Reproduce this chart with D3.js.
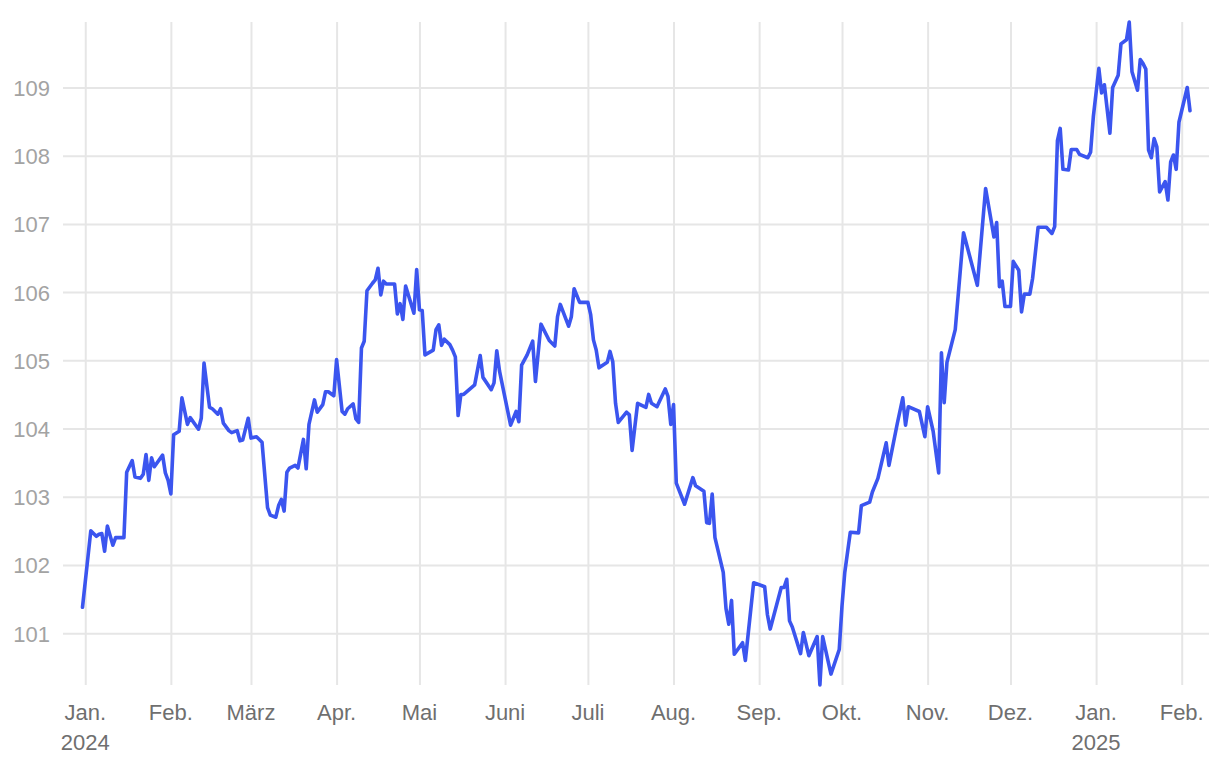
<!DOCTYPE html>
<html>
<head>
<meta charset="utf-8">
<script src="https://cdn.jsdelivr.net/npm/d3@7"></script>
<style>
  html, body { margin: 0; padding: 0; background: #ffffff; }
  svg { display: block; font-family: "Liberation Sans", Arial, Helvetica, sans-serif; }
</style>
</head>
<body>
<svg id="chart" width="1220" height="762"></svg>
<script>
// ---- data ----
const dates = [
  "2023-12-31","2024-01-03","2024-01-05","2024-01-06","2024-01-07","2024-01-08","2024-01-09","2024-01-11","2024-01-12","2024-01-15",
  "2024-01-16","2024-01-18","2024-01-19","2024-01-21","2024-01-22","2024-01-23","2024-01-24","2024-01-25","2024-01-26","2024-01-29",
  "2024-01-30","2024-01-31","2024-02-01","2024-02-02","2024-02-04","2024-02-05","2024-02-07","2024-02-08","2024-02-11","2024-02-12",
  "2024-02-13","2024-02-15","2024-02-16","2024-02-18","2024-02-19","2024-02-20","2024-02-22","2024-02-23","2024-02-25","2024-02-26",
  "2024-02-27","2024-02-29","2024-03-01","2024-03-03","2024-03-05","2024-03-07","2024-03-08","2024-03-10","2024-03-11","2024-03-12",
  "2024-03-13","2024-03-14","2024-03-15","2024-03-17","2024-03-18","2024-03-20","2024-03-21","2024-03-22","2024-03-24","2024-03-25",
  "2024-03-27","2024-03-28","2024-03-29","2024-03-31","2024-04-01","2024-04-03","2024-04-04","2024-04-05","2024-04-07","2024-04-08",
  "2024-04-09","2024-04-10","2024-04-11","2024-04-12","2024-04-14","2024-04-15","2024-04-16","2024-04-17","2024-04-18","2024-04-19",
  "2024-04-22","2024-04-23","2024-04-24","2024-04-25","2024-04-26","2024-04-29","2024-04-30","2024-05-01","2024-05-02","2024-05-03",
  "2024-05-06","2024-05-07","2024-05-08","2024-05-09","2024-05-10","2024-05-12","2024-05-13","2024-05-14","2024-05-15","2024-05-16",
  "2024-05-17","2024-05-21","2024-05-23","2024-05-24","2024-05-27","2024-05-28","2024-05-29","2024-05-30","2024-06-03","2024-06-05",
  "2024-06-06","2024-06-07","2024-06-09","2024-06-11","2024-06-12","2024-06-14","2024-06-17","2024-06-19","2024-06-20","2024-06-21",
  "2024-06-24","2024-06-25","2024-06-26","2024-06-28","2024-07-01","2024-07-02","2024-07-03","2024-07-04","2024-07-05","2024-07-08",
  "2024-07-09","2024-07-10","2024-07-11","2024-07-12","2024-07-15","2024-07-16","2024-07-17","2024-07-18","2024-07-19","2024-07-22",
  "2024-07-23","2024-07-24","2024-07-26","2024-07-29","2024-07-30","2024-07-31","2024-08-01","2024-08-02","2024-08-05","2024-08-08",
  "2024-08-09","2024-08-12","2024-08-13","2024-08-14","2024-08-15","2024-08-16","2024-08-19","2024-08-20","2024-08-21","2024-08-22",
  "2024-08-23","2024-08-26","2024-08-27","2024-08-30","2024-09-03","2024-09-04","2024-09-05","2024-09-09","2024-09-10","2024-09-11",
  "2024-09-12","2024-09-13","2024-09-16","2024-09-17","2024-09-19","2024-09-22","2024-09-23","2024-09-24","2024-09-27","2024-09-30",
  "2024-10-01","2024-10-02","2024-10-04","2024-10-07","2024-10-08","2024-10-11","2024-10-12","2024-10-14","2024-10-17","2024-10-18",
  "2024-10-21","2024-10-23","2024-10-24","2024-10-25","2024-10-29","2024-10-31","2024-11-01","2024-11-03","2024-11-05","2024-11-06",
  "2024-11-07","2024-11-08","2024-11-11","2024-11-14","2024-11-19","2024-11-22","2024-11-25","2024-11-26","2024-11-27","2024-11-28",
  "2024-11-29","2024-12-01","2024-12-02","2024-12-04","2024-12-05","2024-12-06","2024-12-08","2024-12-09","2024-12-11","2024-12-14",
  "2024-12-16","2024-12-17","2024-12-18","2024-12-19","2024-12-20","2024-12-22","2024-12-23","2024-12-25","2024-12-26","2024-12-29",
  "2024-12-30","2024-12-31","2025-01-02","2025-01-03","2025-01-04","2025-01-06","2025-01-07","2025-01-09","2025-01-10","2025-01-12",
  "2025-01-13","2025-01-14","2025-01-16","2025-01-17","2025-01-18","2025-01-19","2025-01-20","2025-01-21","2025-01-22","2025-01-23",
  "2025-01-24","2025-01-26","2025-01-27","2025-01-28","2025-01-29","2025-01-30","2025-01-31","2025-02-03","2025-02-04"
];
const values = [
  101.38,102.50,102.42,102.45,102.46,102.20,102.57,102.29,102.40,102.40,
  103.36,103.53,103.29,103.27,103.33,103.62,103.24,103.57,103.44,103.61,
  103.35,103.24,103.04,103.91,103.96,104.45,104.06,104.16,103.99,104.15,
  104.96,104.31,104.29,104.21,104.29,104.08,103.97,103.94,103.97,103.82,
  103.83,104.15,103.86,103.88,103.80,102.84,102.73,102.70,102.87,102.96,
  102.79,103.36,103.42,103.46,103.42,103.84,103.41,104.06,104.42,104.24,
  104.35,104.54,104.54,104.48,105.01,104.25,104.21,104.29,104.36,104.14,
  104.09,105.18,105.28,106.02,106.13,106.18,106.35,105.96,106.16,106.12,
  106.12,105.68,105.83,105.60,106.09,105.69,106.33,105.74,105.73,105.08,
  105.15,105.45,105.52,105.22,105.31,105.23,105.15,105.05,104.19,104.50,
  104.50,104.64,105.07,104.75,104.57,104.67,105.14,104.84,104.05,104.25,
  104.10,104.93,105.08,105.28,104.69,105.53,105.29,105.21,105.64,105.82,
  105.50,105.64,106.05,105.85,105.85,105.67,105.30,105.15,104.89,104.97,
  105.13,104.98,104.37,104.09,104.24,104.20,103.68,104.03,104.37,104.31,
  104.50,104.37,104.32,104.58,104.47,104.06,104.35,103.20,102.89,103.28,
  103.16,103.08,102.62,102.61,103.04,102.40,101.89,101.36,101.13,101.48,
  100.69,100.86,100.60,101.74,101.68,101.27,101.06,101.67,101.67,101.79,
  101.18,101.09,100.70,101.01,100.67,100.95,100.24,100.95,100.40,100.76,
  101.40,101.89,102.48,102.47,102.87,102.92,103.07,103.27,103.79,103.46,
  104.07,104.45,104.05,104.32,104.25,103.88,104.32,103.96,103.35,105.11,
  104.38,104.97,105.45,106.87,106.10,107.52,106.81,107.02,106.08,106.16,
  105.79,105.79,106.45,106.32,105.71,105.97,105.97,106.20,106.95,106.95,
  106.86,106.96,108.22,108.40,107.80,107.79,108.09,108.09,108.02,107.97,
  108.05,108.57,109.28,108.92,109.04,108.33,109.00,109.18,109.64,109.70,
  109.96,109.23,108.96,109.41,109.35,109.27,108.08,107.97,108.25,108.13,
  107.47,107.62,107.35,107.91,108.01,107.80,108.49,109.00,108.66
];
const yTicks = [101, 102, 103, 104, 105, 106, 107, 108, 109];
const monthTicks = [
  "2024-01-01","2024-02-01","2024-03-01","2024-04-01","2024-05-01","2024-06-01","2024-07-01",
  "2024-08-01","2024-09-01","2024-10-01","2024-11-01","2024-12-01","2025-01-01","2025-02-01"
];
const monthLabels = ["Jan.","Feb.","März","Apr.","Mai","Juni","Juli","Aug.","Sep.","Okt.","Nov.","Dez.","Jan.","Feb."];
const yearLabels  = ["2024","","","","","","","","","","","","2025",""];

// ---- layout ----
const panel = { left: 63, right: 1209, top: 22, bottom: 685 };
const parse = d3.utcParse("%Y-%m-%d");
const data = dates.map((d, i) => ({ date: parse(d), value: values[i] }));
const ticks = monthTicks.map(parse);

const x = d3.scaleUtc()
  .domain(d3.extent(data, d => d.date))
  .range([82.5, 1190]);
const y = d3.scaleLinear()
  .domain(d3.extent(data, d => d.value))
  .range([panel.bottom, panel.top]);

const svg = d3.select("#chart");

// horizontal grid + y labels
const yAxis = d3.axisLeft(y)
  .tickValues(yTicks)
  .tickSize(-(panel.right - panel.left))
  .tickPadding(13)
  .tickFormat(d3.format("d"));
const gy = svg.append("g")
  .attr("transform", `translate(${panel.left},0)`)
  .call(yAxis);
gy.select(".domain").remove();
gy.selectAll(".tick line").attr("stroke", "#e6e6e6").attr("stroke-width", 2);
gy.selectAll(".tick text")
  .attr("fill", "#a3a3a3")
  .style("font-size", "22px")
  .attr("dy", "0.36em");

// vertical grid
const xAxis = d3.axisBottom(x)
  .tickValues(ticks)
  .tickSize(-(panel.bottom - panel.top))
  .tickFormat("");
const gx = svg.append("g")
  .attr("transform", `translate(0,${panel.bottom})`)
  .call(xAxis);
gx.select(".domain").remove();
gx.selectAll(".tick line").attr("stroke", "#e6e6e6").attr("stroke-width", 2);

// month / year labels
const lab = svg.append("g").attr("fill", "#6f6f6f").style("font-size", "22px").attr("text-anchor", "middle");
lab.selectAll("text.m").data(ticks).join("text")
  .attr("class", "m")
  .attr("x", d => x(d))
  .attr("y", 720)
  .text((d, i) => monthLabels[i]);
lab.selectAll("text.yr").data(ticks).join("text")
  .attr("class", "yr")
  .attr("x", d => x(d))
  .attr("y", 750)
  .text((d, i) => yearLabels[i]);

// line
const line = d3.line()
  .x(d => x(d.date))
  .y(d => y(d.value));
svg.append("path")
  .datum(data)
  .attr("fill", "none")
  .attr("stroke", "#3b55ef")
  .attr("stroke-width", 3.6)
  .attr("stroke-linejoin", "round")
  .attr("stroke-linecap", "round")
  .attr("d", line);
</script>
</body>
</html>
